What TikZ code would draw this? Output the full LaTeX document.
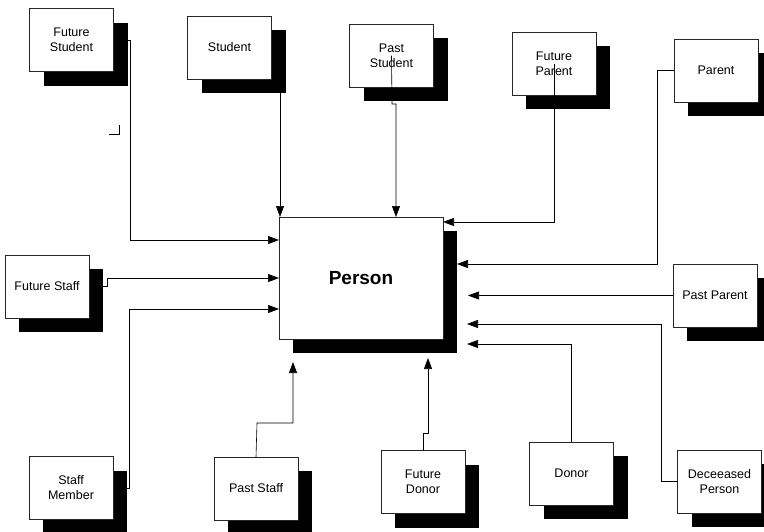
\documentclass[tikz,border=0pt]{standalone}
\usepackage{fontspec}
\setmainfont{Liberation Sans}
\usetikzlibrary{arrows.meta,shadows}
\begin{document}
\begin{tikzpicture}[x=1pt,y=-1pt,
 box/.style={draw=black!85, line width=0.6pt, fill=white, minimum width=84pt, minimum height=63pt,
   inner sep=0pt, outer sep=0pt, align=center, font=\fontsize{12.5}{15}\selectfont,
   drop shadow={shadow xshift=14pt, shadow yshift=-14pt, opacity=1, fill=black, draw=none}},
 arr/.style={line width=0.6pt, -{Triangle[length=11pt,width=8pt]}},
 con/.style={line width=0.6pt}]
\useasboundingbox (0,0) rectangle (764,531);
\node[box] (fs) at (71.5,40) {Future\\Student};
\node[box] (st) at (229.5,47.5) {Student};
\node[box] (ps) at (391.5,55.5) {Past\\Student};
\node[box] (fp) at (554,63.5) {Future\\Parent};
\node[box] (pa) at (716,70.5) {Parent};
\node[box, minimum width=164pt, minimum height=122pt, font=\bfseries\fontsize{19}{22}\selectfont] (person) at (361,278) {Person};
\node[box] (fst) at (47,286.5) {Future Staff};
\node[box] (sm) at (71,488) {Staff\\Member};
\node[box] (pst) at (256,488.5) {Past Staff};
\node[box] (fd) at (423,482) {Future\\Donor};
\node[box] (do) at (571.5,473.5) {Donor};
\node[box] (dp) at (719.5,481.5) {Deceeased\\Person};
\node[box] (pp) at (715,295.5) {Past Parent};
% connectors
\draw[arr] ([xshift=14pt]fs.east) -- (130,40) -- (130,240) -- (person.west |- 0,240);
\draw[arr] (st.south -| 280,0) -- (person.north -| 280,0);
\draw[arr] (ps.center) -- (392,104) -- (396,104) -- (person.north -| 396,0);
\draw[arr] (fp.center) -- (554,222) -- (person.east |- 0,222);
\draw[arr] (pa.west) -- (657,70.5) -- (657,264) -- ([xshift=14pt]person.east |- 0,264);
\draw[arr] (pp.west) -- ([xshift=25pt]person.east |- pp.west);
\draw[arr] (dp.west) -- (661,481.5) -- (661,324) -- ([xshift=24pt]person.east |- 0,324);
\draw[arr] (do.north) -- (571.5,344) -- ([xshift=24pt]person.east |- 0,344);
\draw[arr] (fd.north) -- (423,433) -- (428,433) -- ([yshift=-19pt]person.south -| 428,0);
\draw[arr] (pst.north) -- (257,423) -- (293,423) -- ([yshift=-23pt]person.south -| 293,0);
\draw[arr] ([xshift=14pt]sm.east) -- (129,488) -- (129,309) -- (person.west |- 0,309);
\draw[arr] ([xshift=14pt]fst.east) -- (107,286.5) -- (107,278) -- (person.west |- 0,278);
% stray corner mark
\draw[con] (109,134) -- (119,134) -- (119,125);
\end{tikzpicture}
\end{document}
